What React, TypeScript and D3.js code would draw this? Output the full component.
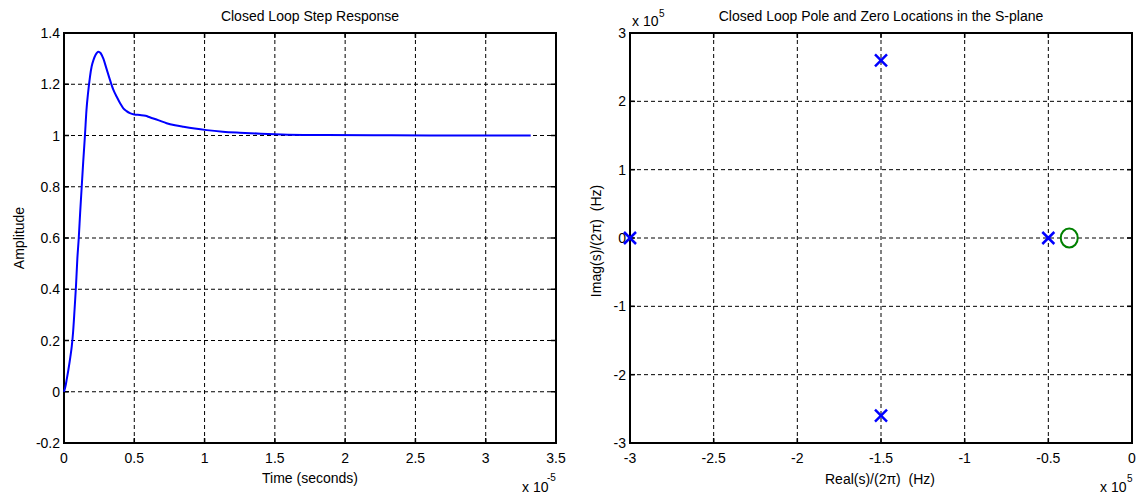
import React from "react";
import * as d3 from "d3";

// Step response data (time in units of 1e-5 s)
const stepTime = [0, 0.01, 0.02, 0.031, 0.045, 0.055, 0.065, 0.075, 0.085, 0.095, 0.105, 0.115, 0.126, 0.137, 0.149, 0.16, 0.172, 0.185, 0.197, 0.21, 0.225, 0.244, 0.26, 0.28, 0.3, 0.327, 0.35, 0.375, 0.4, 0.422, 0.445, 0.469, 0.5, 0.54, 0.58, 0.61, 0.67, 0.73, 0.79, 0.85, 0.93, 1.015, 1.13, 1.25, 1.4, 1.55, 1.8, 2.2, 2.6, 3.0, 3.32];
const stepAmp = [0, 0.02, 0.05, 0.085, 0.135, 0.176, 0.235, 0.32, 0.41, 0.52, 0.6, 0.7, 0.8, 0.9, 1.0, 1.1, 1.17, 1.23, 1.27, 1.295, 1.315, 1.327, 1.322, 1.3, 1.265, 1.217, 1.18, 1.151, 1.125, 1.106, 1.095, 1.087, 1.082, 1.08, 1.077, 1.071, 1.06, 1.048, 1.04, 1.034, 1.027, 1.021, 1.015, 1.011, 1.007, 1.004, 1.002, 1.001, 1.0, 1.0, 1.0];

const stepXTicks = [0, 0.5, 1, 1.5, 2, 2.5, 3, 3.5];
const stepXLabels = ["0", "0.5", "1", "1.5", "2", "2.5", "3", "3.5"];
const stepYTicks = [-0.2, 0, 0.2, 0.4, 0.6, 0.8, 1, 1.2, 1.4];
const stepYLabels = ["-0.2", "0", "0.2", "0.4", "0.6", "0.8", "1", "1.2", "1.4"];

// Poles and zeros (units of 1e5 Hz)
const poleRe = [-3, -1.5, -1.5, -0.5];
const poleIm = [0, 2.6, -2.6, 0];
const zeroRe = [-0.375];
const zeroIm = [0];

const pzXTicks = [-3, -2.5, -2, -1.5, -1, -0.5, 0];
const pzXLabels = ["-3", "-2.5", "-2", "-1.5", "-1", "-0.5", "0"];
const pzYTicks = [-3, -2, -1, 0, 1, 2, 3];
const pzYLabels = ["-3", "-2", "-1", "0", "1", "2", "3"];

const FONT = "'Liberation Sans', Arial, sans-serif";

type Frame = { x0: number; x1: number; y0: number; y1: number };

function Axes({ f, xs, ys, xTicks, yTicks, xLabels, yLabels }: any) {
  const tl = 5;
  return (
    <g>
      {xTicks.map((t: number, i: number) => (
        <line key={"gx" + i} x1={xs(t)} x2={xs(t)} y1={f.y0} y2={f.y1} stroke="#000" strokeWidth={1} strokeDasharray="4,3" />
      ))}
      {yTicks.map((t: number, i: number) => (
        <line key={"gy" + i} x1={f.x0} x2={f.x1} y1={ys(t)} y2={ys(t)} stroke="#000" strokeWidth={1} strokeDasharray="4,3" />
      ))}
      {xTicks.map((t: number, i: number) => (
        <g key={"tx" + i}>
          <line x1={xs(t)} x2={xs(t)} y1={f.y1} y2={f.y1 - tl} stroke="#000" strokeWidth={1.5} />
          <line x1={xs(t)} x2={xs(t)} y1={f.y0} y2={f.y0 + tl} stroke="#000" strokeWidth={1.5} />
          <text x={xs(t)} y={463} textAnchor="middle" fontSize={14} fontFamily={FONT}>{xLabels[i]}</text>
        </g>
      ))}
      {yTicks.map((t: number, i: number) => (
        <g key={"ty" + i}>
          <line x1={f.x0} x2={f.x0 + tl} y1={ys(t)} y2={ys(t)} stroke="#000" strokeWidth={1.5} />
          <line x1={f.x1} x2={f.x1 - tl} y1={ys(t)} y2={ys(t)} stroke="#000" strokeWidth={1.5} />
          <text x={f.x0 - 4} y={ys(t)} dy="0.36em" textAnchor="end" fontSize={14} fontFamily={FONT}>{yLabels[i]}</text>
        </g>
      ))}
      <rect x={f.x0} y={f.y0} width={f.x1 - f.x0} height={f.y1 - f.y0} fill="none" stroke="#000" strokeWidth={2} />
    </g>
  );
}

export default function App() {
  const fL: Frame = { x0: 64, x1: 556, y0: 33, y1: 443 };
  const fR: Frame = { x0: 630, x1: 1132, y0: 33, y1: 443 };

  const xL = d3.scaleLinear().domain([0, 3.5]).range([fL.x0, fL.x1]);
  const yL = d3.scaleLinear().domain([-0.2, 1.4]).range([fL.y1, fL.y0]);
  const xR = d3.scaleLinear().domain([-3, 0]).range([fR.x0, fR.x1]);
  const yR = d3.scaleLinear().domain([-3, 3]).range([fR.y1, fR.y0]);

  const pts: [number, number][] = stepTime.map((t, i) => [t, stepAmp[i]]);
  const lineGen = d3.line<[number, number]>().x((d) => xL(d[0])).y((d) => yL(d[1])).curve(d3.curveMonotoneX);

  const m = 6;

  return (
    <svg width={1136} height={497} style={{ position: "absolute", left: 0, top: 0, background: "#fff" }}>
      <rect x={0} y={0} width={1136} height={497} fill="#fff" />
      {/* Left plot */}
      <Axes f={fL} xs={xL} ys={yL} xTicks={stepXTicks} yTicks={stepYTicks} xLabels={stepXLabels} yLabels={stepYLabels} />
      <path d={lineGen(pts) || ""} fill="none" stroke="#0000ff" strokeWidth={2} />
      <text x={310} y={21} textAnchor="middle" fontSize={14} fontFamily={FONT}>Closed Loop Step Response</text>
      <text x={310} y={483} textAnchor="middle" fontSize={14} fontFamily={FONT}>Time (seconds)</text>
      <text transform="translate(24,238) rotate(-90)" textAnchor="middle" fontSize={14} fontFamily={FONT}>Amplitude</text>
      <text x={522} y={492} fontSize={14} fontFamily={FONT}>x 10</text>
      <text x={547} y={481} fontSize={10} fontFamily={FONT}>-5</text>

      {/* Right plot */}
      <Axes f={fR} xs={xR} ys={yR} xTicks={pzXTicks} yTicks={pzYTicks} xLabels={pzXLabels} yLabels={pzYLabels} />
      {poleRe.map((r, i) => (
        <g key={"p" + i} stroke="#0000ff" strokeWidth={2.5}>
          <line x1={xR(r) - m} x2={xR(r) + m} y1={yR(poleIm[i]) - m} y2={yR(poleIm[i]) + m} />
          <line x1={xR(r) - m} x2={xR(r) + m} y1={yR(poleIm[i]) + m} y2={yR(poleIm[i]) - m} />
        </g>
      ))}
      {zeroRe.map((r, i) => (
        <ellipse key={"z" + i} cx={xR(r)} cy={yR(zeroIm[i])} rx={8.5} ry={9.5} fill="none" stroke="#008000" strokeWidth={2} />
      ))}
      <text x={881} y={21} textAnchor="middle" fontSize={14} fontFamily={FONT}>Closed Loop Pole and Zero Locations in the S-plane</text>
      <text x={880} y={484} textAnchor="middle" fontSize={14} fontFamily={FONT} style={{ whiteSpace: "pre" }}>{"Real(s)/(2\u03c0)  (Hz)"}</text>
      <text transform="translate(601,241) rotate(-90)" textAnchor="middle" fontSize={14} fontFamily={FONT} style={{ whiteSpace: "pre" }}>{"Imag(s)/(2\u03c0)  (Hz)"}</text>
      <text x={632} y={26} fontSize={14} fontFamily={FONT}>x 10</text>
      <text x={659} y={17} fontSize={10} fontFamily={FONT}>5</text>
      <text x={1100} y={492} fontSize={14} fontFamily={FONT}>x 10</text>
      <text x={1127} y={482} fontSize={10} fontFamily={FONT}>5</text>
    </svg>
  );
}
